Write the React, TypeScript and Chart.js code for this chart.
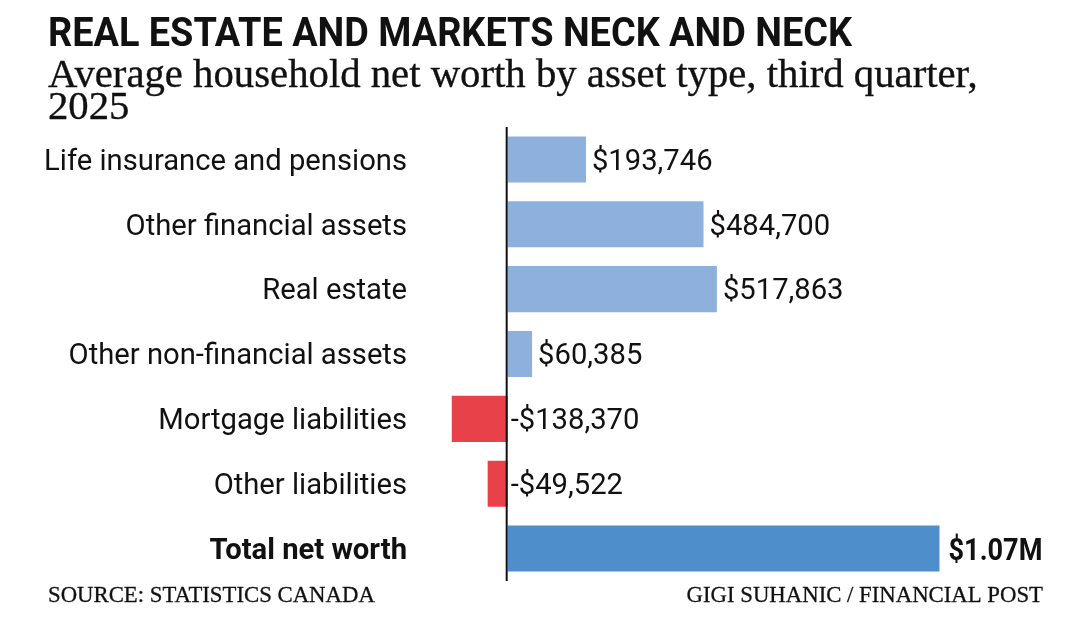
import { useEffect, useRef } from "react";
import { Chart, registerables } from "chart.js";

Chart.register(...registerables);

// Net worth components, third quarter 2025 (average per household, CAD)
const categories = [
  "Life insurance and pensions",
  "Other financial assets",
  "Real estate",
  "Other non-financial assets",
  "Mortgage liabilities",
  "Other liabilities",
  "Total net worth",
];
const values = [193746, 484700, 517863, 60385, -138370, -49522, 1068802];
const totalIndex = 6;

const xMin = -170000;
const xMax = 1330000;

const titleText = "REAL ESTATE AND MARKETS NECK AND NECK";
const subtitleLines = [
  "Average household net worth by asset type, third quarter,",
  "2025",
];
const sourceText = "SOURCE: STATISTICS CANADA";
const creditText = "GIGI SUHANIC / FINANCIAL POST";

const colorAsset = "#8db0dc";
const colorTotal = "#4e8fca";
const colorLiability = "#e8414a";
const ink = "#111111";

const sansFamily = "Roboto, 'DejaVu Sans Condensed', sans-serif";
const serifFamily = "'Liberation Serif', 'DejaVu Serif', serif";

function formatValue(v: number, i: number): string {
  if (i === totalIndex) return "$" + (v / 1e6).toFixed(2) + "M";
  const s = "$" + Math.abs(v).toLocaleString("en-US");
  return v < 0 ? "-" + s : s;
}

function fitSize(text: string, family: string, weight: string, targetWidth: number): number {
  const c = document.createElement("canvas").getContext("2d")!;
  c.font = `${weight} 100px ${family}`;
  const w = c.measureText(text).width;
  return (100 * targetWidth) / w;
}

// Draws text at a given font size, narrowed horizontally to a target width.
function drawNarrowed(
  ctx: CanvasRenderingContext2D,
  text: string,
  x: number,
  y: number,
  font: string,
  width: number,
  align: CanvasTextAlign = "left"
) {
  ctx.save();
  ctx.font = font;
  ctx.textAlign = align;
  const w = ctx.measureText(text).width;
  ctx.translate(x, y);
  ctx.scale(Math.min(1, width / w), 1);
  ctx.fillText(text, 0, 0);
  ctx.restore();
}

// Serif text with a hairline stroke for a slightly heavier face.
function drawSerif(ctx: CanvasRenderingContext2D, text: string, x: number, y: number, stroke: number) {
  ctx.fillText(text, x, y);
  if (stroke > 0) {
    ctx.lineWidth = stroke;
    ctx.strokeStyle = ink;
    ctx.strokeText(text, x, y);
  }
}

export default function App() {
  const canvasRef = useRef<HTMLCanvasElement | null>(null);

  useEffect(() => {
    const canvas = canvasRef.current;
    if (!canvas) return;

    const labelSize = fitSize(categories[0], sansFamily, "normal", 363);
    const subtitleSize = fitSize(subtitleLines[0], serifFamily, "normal", 930);
    const footerSize = fitSize(sourceText, serifFamily, "normal", 327);

    const colors = values.map((v, i) =>
      i === totalIndex ? colorTotal : v < 0 ? colorLiability : colorAsset
    );

    const overlay = {
      id: "overlay",
      afterDatasetsDraw(chart: any) {
        const ctx: CanvasRenderingContext2D = chart.ctx;
        const xs = chart.scales.x;
        const zero = xs.getPixelForValue(0);
        const area = chart.chartArea;
        ctx.save();
        // zero baseline
        ctx.strokeStyle = ink;
        ctx.lineWidth = 2;
        ctx.beginPath();
        ctx.moveTo(zero - 1, area.top);
        ctx.lineTo(zero - 1, area.bottom);
        ctx.stroke();

        // value labels
        const meta = chart.getDatasetMeta(0);
        ctx.fillStyle = ink;
        ctx.textBaseline = "middle";
        meta.data.forEach((bar: any, i: number) => {
          const v = values[i];
          const label = formatValue(v, i);
          if (i === totalIndex) {
            drawNarrowed(ctx, label, bar.x + 9, bar.y + 3, `bold 32px ${sansFamily}`, 94);
          } else {
            const x = v >= 0 ? bar.x + 6 : zero + 3;
            ctx.font = `normal ${labelSize}px ${sansFamily}`;
            ctx.textAlign = "left";
            ctx.fillText(label, x, bar.y + 3);
          }
        });
        ctx.restore();
      },
      afterDraw(chart: any) {
        const ctx: CanvasRenderingContext2D = chart.ctx;
        ctx.save();
        ctx.fillStyle = ink;
        ctx.textBaseline = "alphabetic";
        drawNarrowed(ctx, titleText, 48, 46, `bold 40px ${sansFamily}`, 804);
        ctx.textAlign = "left";
        ctx.font = `normal ${subtitleSize}px ${serifFamily}`;
        drawSerif(ctx, subtitleLines[0], 48, 87, 0.35);
        drawSerif(ctx, subtitleLines[1], 48, 119, 0.35);
        ctx.font = `normal ${footerSize}px ${serifFamily}`;
        drawSerif(ctx, sourceText, 48, 602, 0.3);
        ctx.textAlign = "right";
        drawSerif(ctx, creditText, 1043, 602, 0.3);
        ctx.restore();
      },
    };

    const chart = new Chart(canvas, {
      type: "bar",
      data: {
        labels: categories,
        datasets: [
          {
            data: values,
            backgroundColor: colors,
            borderWidth: 0,
            barPercentage: 0.71,
            categoryPercentage: 1,
          },
        ],
      },
      options: {
        indexAxis: "y",
        responsive: false,
        animation: false,
        layout: { padding: { top: 127, bottom: 51, left: 0, right: 35 } },
        plugins: {
          legend: { display: false },
          tooltip: { enabled: false },
          title: { display: false },
        },
        scales: {
          x: {
            display: false,
            min: xMin,
            max: xMax,
          },
          y: {
            grid: { display: false, drawTicks: false },
            border: { display: false },
            ticks: {
              color: ink,
              padding: 32,
              labelOffset: 3,
              font: (c: any) => ({
                family: sansFamily,
                size: labelSize,
                weight: c.index === totalIndex ? "bold" : "normal",
              }),
            },
            afterFit(scale: any) {
              scale.width = 439;
            },
          },
        },
      },
      plugins: [overlay],
    } as any);

    return () => chart.destroy();
  }, []);

  return (
    <div style={{ position: "absolute", left: 0, top: 0, width: 1080, height: 632, background: "#fff" }}>
      <canvas ref={canvasRef} width={1080} height={632} style={{ display: "block" }} />
    </div>
  );
}
